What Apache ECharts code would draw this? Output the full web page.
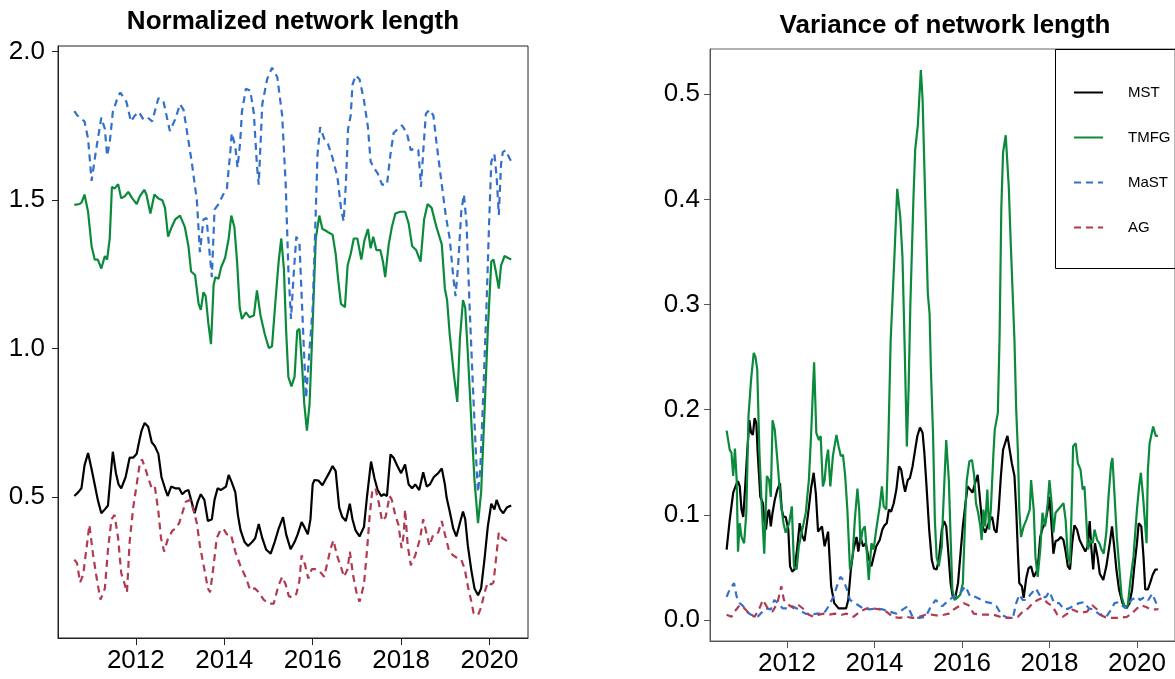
<!DOCTYPE html>
<html>
<head>
<meta charset="utf-8">
<script src="https://cdn.jsdelivr.net/npm/echarts@6/dist/echarts.min.js"></script>
<style>
html,body{margin:0;padding:0;background:#fff;}
#chart{width:1175px;height:679px;}
</style>
</head>
<body>
<div id="chart"></div>
<script>
// ---------- tick labels ----------
const yearTicks = [2012, 2014, 2016, 2018, 2020];
const lenTicks = [0.5, 1.0, 1.5, 2.0];
const varTicks = [0.0, 0.1, 0.2, 0.3, 0.4, 0.5];
const seriesNames = ['MST', 'TMFG', 'MaST', 'AG'];

// ---------- left panel: normalized network length [year, value] ----------
const mstLen = [[2010.61,0.504],[2010.70,0.517],[2010.77,0.53],[2010.84,0.607],[2010.92,0.649],[2011.0,0.594],[2011.07,0.543],[2011.14,0.491],[2011.22,0.446],[2011.30,0.459],[2011.37,0.472],[2011.42,0.556],[2011.48,0.653],[2011.55,0.581],[2011.61,0.543],[2011.67,0.53],[2011.77,0.568],[2011.86,0.633],[2011.94,0.633],[2012.02,0.646],[2012.09,0.698],[2012.13,0.724],[2012.20,0.75],[2012.28,0.737],[2012.36,0.685],[2012.43,0.672],[2012.51,0.646],[2012.58,0.568],[2012.66,0.53],[2012.72,0.504],[2012.80,0.536],[2012.89,0.53],[2012.98,0.53],[2013.05,0.51],[2013.12,0.52],[2013.19,0.524],[2013.25,0.491],[2013.33,0.446],[2013.40,0.485],[2013.47,0.51],[2013.55,0.491],[2013.63,0.42],[2013.72,0.426],[2013.78,0.491],[2013.85,0.53],[2013.92,0.524],[2013.98,0.53],[2014.04,0.536],[2014.10,0.575],[2014.17,0.55],[2014.25,0.517],[2014.31,0.439],[2014.37,0.388],[2014.46,0.349],[2014.54,0.336],[2014.63,0.349],[2014.70,0.362],[2014.78,0.41],[2014.86,0.362],[2014.95,0.323],[2015.05,0.31],[2015.14,0.349],[2015.23,0.394],[2015.33,0.433],[2015.40,0.375],[2015.50,0.325],[2015.59,0.349],[2015.66,0.375],[2015.75,0.416],[2015.81,0.40],[2015.89,0.375],[2015.95,0.426],[2016.0,0.543],[2016.04,0.558],[2016.13,0.556],[2016.22,0.54],[2016.30,0.562],[2016.37,0.581],[2016.45,0.605],[2016.52,0.588],[2016.60,0.465],[2016.67,0.433],[2016.75,0.42],[2016.84,0.478],[2016.90,0.426],[2016.97,0.388],[2017.06,0.368],[2017.16,0.40],[2017.23,0.504],[2017.32,0.62],[2017.40,0.562],[2017.47,0.524],[2017.55,0.504],[2017.61,0.51],[2017.68,0.504],[2017.76,0.644],[2017.83,0.633],[2017.91,0.607],[2018.0,0.581],[2018.09,0.61],[2018.17,0.543],[2018.25,0.53],[2018.32,0.543],[2018.41,0.524],[2018.50,0.584],[2018.58,0.536],[2018.65,0.543],[2018.74,0.568],[2018.84,0.581],[2018.92,0.597],[2018.99,0.543],[2019.03,0.498],[2019.10,0.452],[2019.18,0.394],[2019.25,0.368],[2019.33,0.413],[2019.40,0.452],[2019.45,0.426],[2019.51,0.336],[2019.59,0.252],[2019.66,0.193],[2019.74,0.17],[2019.81,0.193],[2019.89,0.297],[2019.96,0.40],[2020.04,0.478],[2020.11,0.459],[2020.16,0.491],[2020.24,0.459],[2020.31,0.446],[2020.39,0.465],[2020.49,0.472]];

const tmfgLen = [[2010.61,1.484],[2010.73,1.487],[2010.78,1.494],[2010.84,1.519],[2010.92,1.461],[2011.0,1.345],[2011.07,1.30],[2011.14,1.30],[2011.22,1.27],[2011.30,1.312],[2011.35,1.30],[2011.41,1.371],[2011.46,1.545],[2011.52,1.539],[2011.60,1.554],[2011.67,1.506],[2011.75,1.513],[2011.83,1.528],[2011.92,1.506],[2012.02,1.487],[2012.09,1.513],[2012.19,1.535],[2012.24,1.519],[2012.33,1.455],[2012.42,1.519],[2012.51,1.506],[2012.60,1.50],[2012.66,1.474],[2012.73,1.377],[2012.81,1.409],[2012.89,1.435],[2013.0,1.448],[2013.11,1.409],[2013.19,1.345],[2013.25,1.26],[2013.34,1.248],[2013.42,1.151],[2013.47,1.131],[2013.53,1.19],[2013.58,1.177],[2013.64,1.086],[2013.70,1.015],[2013.76,1.215],[2013.80,1.241],[2013.87,1.235],[2013.93,1.274],[2014.02,1.306],[2014.10,1.371],[2014.16,1.448],[2014.23,1.409],[2014.29,1.293],[2014.35,1.138],[2014.40,1.10],[2014.49,1.122],[2014.57,1.106],[2014.67,1.112],[2014.74,1.196],[2014.82,1.112],[2014.92,1.047],[2015.01,1.002],[2015.08,1.008],[2015.16,1.164],[2015.23,1.293],[2015.29,1.371],[2015.35,1.267],[2015.40,1.06],[2015.45,0.905],[2015.52,0.873],[2015.59,0.905],[2015.65,1.06],[2015.70,1.067],[2015.76,0.944],[2015.81,0.814],[2015.87,0.724],[2015.93,0.814],[2016.0,1.086],[2016.07,1.371],[2016.15,1.448],[2016.22,1.403],[2016.30,1.397],[2016.37,1.39],[2016.45,1.384],[2016.52,1.319],[2016.58,1.228],[2016.64,1.151],[2016.73,1.14],[2016.79,1.28],[2016.86,1.319],[2016.93,1.371],[2017.01,1.371],[2017.10,1.30],[2017.17,1.364],[2017.25,1.403],[2017.31,1.338],[2017.37,1.377],[2017.44,1.332],[2017.53,1.332],[2017.59,1.293],[2017.64,1.241],[2017.72,1.351],[2017.79,1.409],[2017.87,1.455],[2017.98,1.461],[2018.09,1.461],[2018.17,1.422],[2018.25,1.345],[2018.34,1.332],[2018.44,1.293],[2018.52,1.435],[2018.60,1.487],[2018.69,1.474],[2018.80,1.409],[2018.92,1.351],[2018.99,1.202],[2019.04,1.164],[2019.10,1.047],[2019.19,0.918],[2019.27,0.821],[2019.33,1.034],[2019.40,1.164],[2019.45,1.138],[2019.51,0.983],[2019.59,0.75],[2019.66,0.556],[2019.74,0.413],[2019.81,0.517],[2019.89,0.801],[2019.96,1.06],[2020.04,1.293],[2020.09,1.30],[2020.15,1.254],[2020.21,1.202],[2020.26,1.28],[2020.34,1.312],[2020.41,1.306],[2020.49,1.30]];

const mastLen = [[2010.61,1.80],[2010.68,1.785],[2010.84,1.765],[2010.92,1.707],[2011.0,1.565],[2011.10,1.668],[2011.22,1.778],[2011.30,1.74],[2011.35,1.649],[2011.41,1.694],[2011.48,1.797],[2011.60,1.85],[2011.65,1.862],[2011.79,1.83],[2011.89,1.765],[2011.98,1.785],[2012.07,1.797],[2012.17,1.772],[2012.27,1.778],[2012.37,1.765],[2012.51,1.843],[2012.62,1.836],[2012.77,1.733],[2012.89,1.772],[2013.0,1.823],[2013.08,1.804],[2013.19,1.70],[2013.27,1.623],[2013.38,1.50],[2013.45,1.325],[2013.53,1.435],[2013.60,1.44],[2013.67,1.32],[2013.72,1.241],[2013.78,1.468],[2013.87,1.487],[2013.98,1.52],[2014.06,1.539],[2014.14,1.668],[2014.17,1.726],[2014.25,1.681],[2014.30,1.61],[2014.36,1.694],[2014.40,1.798],[2014.49,1.875],[2014.59,1.869],[2014.67,1.791],[2014.74,1.616],[2014.78,1.552],[2014.86,1.823],[2014.97,1.907],[2015.08,1.946],[2015.20,1.914],[2015.31,1.785],[2015.39,1.552],[2015.45,1.267],[2015.51,1.10],[2015.57,1.25],[2015.63,1.377],[2015.70,1.358],[2015.78,1.073],[2015.85,0.834],[2015.93,1.0],[2016.0,1.138],[2016.07,1.461],[2016.11,1.655],[2016.17,1.746],[2016.26,1.707],[2016.35,1.688],[2016.45,1.642],[2016.56,1.578],[2016.64,1.474],[2016.70,1.429],[2016.75,1.552],[2016.80,1.739],[2016.86,1.785],[2016.90,1.888],[2016.97,1.92],[2017.06,1.907],[2017.16,1.836],[2017.25,1.746],[2017.31,1.63],[2017.38,1.61],[2017.47,1.59],[2017.57,1.552],[2017.68,1.552],[2017.76,1.655],[2017.83,1.726],[2017.92,1.739],[2018.02,1.752],[2018.13,1.726],[2018.22,1.668],[2018.32,1.675],[2018.39,1.668],[2018.45,1.545],[2018.50,1.662],[2018.56,1.791],[2018.64,1.804],[2018.73,1.785],[2018.80,1.694],[2018.92,1.552],[2019.01,1.448],[2019.10,1.37],[2019.18,1.241],[2019.23,1.177],[2019.29,1.28],[2019.36,1.461],[2019.42,1.519],[2019.48,1.422],[2019.55,1.138],[2019.63,0.853],[2019.70,0.62],[2019.74,0.517],[2019.79,0.594],[2019.85,0.814],[2019.93,1.138],[2019.99,1.422],[2020.04,1.63],[2020.11,1.655],[2020.16,1.58],[2020.21,1.45],[2020.26,1.62],[2020.30,1.662],[2020.36,1.668],[2020.49,1.63]];

const agLen = [[2010.61,0.29],[2010.67,0.278],[2010.74,0.213],[2010.81,0.239],[2010.88,0.323],[2010.95,0.407],[2011.03,0.31],[2011.11,0.232],[2011.20,0.155],[2011.30,0.193],[2011.37,0.323],[2011.45,0.426],[2011.52,0.44],[2011.60,0.362],[2011.67,0.245],[2011.75,0.206],[2011.80,0.18],[2011.86,0.349],[2011.94,0.465],[2012.02,0.543],[2012.09,0.614],[2012.14,0.627],[2012.22,0.594],[2012.30,0.556],[2012.36,0.53],[2012.43,0.536],[2012.51,0.452],[2012.57,0.362],[2012.64,0.317],[2012.73,0.362],[2012.83,0.388],[2012.90,0.394],[2012.98,0.413],[2013.05,0.446],[2013.13,0.485],[2013.23,0.491],[2013.30,0.459],[2013.38,0.413],[2013.45,0.336],[2013.55,0.258],[2013.63,0.193],[2013.68,0.18],[2013.76,0.271],[2013.83,0.362],[2013.91,0.388],[2013.98,0.394],[2014.06,0.375],[2014.15,0.375],[2014.25,0.317],[2014.36,0.271],[2014.48,0.232],[2014.59,0.187],[2014.69,0.193],[2014.78,0.18],[2014.89,0.155],[2015.01,0.142],[2015.12,0.142],[2015.22,0.2],[2015.31,0.232],[2015.39,0.206],[2015.46,0.167],[2015.55,0.162],[2015.63,0.174],[2015.70,0.219],[2015.75,0.304],[2015.83,0.271],[2015.90,0.226],[2015.98,0.258],[2016.05,0.258],[2016.15,0.252],[2016.26,0.232],[2016.34,0.284],[2016.41,0.329],[2016.47,0.355],[2016.55,0.304],[2016.64,0.265],[2016.71,0.232],[2016.79,0.258],[2016.84,0.317],[2016.92,0.232],[2016.99,0.18],[2017.06,0.148],[2017.16,0.206],[2017.23,0.323],[2017.29,0.439],[2017.35,0.524],[2017.42,0.53],[2017.50,0.478],[2017.57,0.42],[2017.65,0.433],[2017.74,0.504],[2017.79,0.491],[2017.87,0.439],[2017.94,0.407],[2018.01,0.329],[2018.06,0.375],[2018.09,0.459],[2018.15,0.336],[2018.22,0.271],[2018.32,0.304],[2018.43,0.362],[2018.50,0.426],[2018.58,0.375],[2018.64,0.336],[2018.73,0.375],[2018.84,0.381],[2018.92,0.42],[2018.99,0.375],[2019.09,0.317],[2019.18,0.304],[2019.25,0.297],[2019.36,0.29],[2019.44,0.258],[2019.51,0.2],[2019.59,0.148],[2019.64,0.109],[2019.74,0.103],[2019.81,0.129],[2019.89,0.18],[2019.96,0.213],[2020.04,0.206],[2020.09,0.213],[2020.15,0.297],[2020.21,0.381],[2020.29,0.362],[2020.37,0.355],[2020.45,0.349]];

// ---------- right panel: variance of network length [year, value] ----------
const mstVar = [[2010.62,0.067],[2010.69,0.095],[2010.77,0.121],[2010.84,0.129],[2010.88,0.132],[2010.92,0.127],[2010.96,0.105],[2011.0,0.098],[2011.03,0.117],[2011.09,0.159],[2011.14,0.19],[2011.18,0.178],[2011.22,0.176],[2011.26,0.192],[2011.30,0.187],[2011.33,0.159],[2011.39,0.117],[2011.45,0.111],[2011.48,0.095],[2011.52,0.086],[2011.56,0.102],[2011.59,0.105],[2011.63,0.089],[2011.67,0.102],[2011.72,0.114],[2011.78,0.124],[2011.84,0.13],[2011.88,0.105],[2011.92,0.098],[2011.97,0.098],[2012.03,0.086],[2012.07,0.051],[2012.12,0.046],[2012.17,0.048],[2012.23,0.067],[2012.29,0.092],[2012.35,0.08],[2012.40,0.075],[2012.48,0.1],[2012.55,0.125],[2012.61,0.14],[2012.66,0.12],[2012.71,0.084],[2012.80,0.089],[2012.86,0.07],[2012.94,0.084],[2013.01,0.032],[2013.08,0.016],[2013.18,0.011],[2013.35,0.011],[2013.40,0.019],[2013.46,0.048],[2013.52,0.067],[2013.59,0.079],[2013.63,0.065],[2013.68,0.079],[2013.74,0.07],[2013.80,0.073],[2013.86,0.06],[2013.93,0.051],[2013.98,0.06],[2014.04,0.07],[2014.12,0.076],[2014.18,0.086],[2014.23,0.09],[2014.28,0.092],[2014.33,0.105],[2014.38,0.103],[2014.44,0.111],[2014.50,0.124],[2014.56,0.146],[2014.61,0.143],[2014.66,0.13],[2014.70,0.122],[2014.76,0.133],[2014.81,0.135],[2014.87,0.146],[2014.93,0.162],[2014.98,0.175],[2015.04,0.183],[2015.10,0.178],[2015.14,0.159],[2015.19,0.127],[2015.25,0.086],[2015.31,0.057],[2015.36,0.049],[2015.42,0.048],[2015.47,0.057],[2015.54,0.086],[2015.59,0.094],[2015.64,0.089],[2015.69,0.063],[2015.74,0.035],[2015.79,0.022],[2015.85,0.022],[2015.91,0.035],[2015.96,0.06],[2016.02,0.089],[2016.08,0.111],[2016.13,0.127],[2016.19,0.124],[2016.24,0.121],[2016.30,0.13],[2016.36,0.138],[2016.42,0.111],[2016.47,0.089],[2016.53,0.083],[2016.58,0.089],[2016.64,0.095],[2016.69,0.098],[2016.74,0.086],[2016.79,0.083],[2016.84,0.105],[2016.89,0.137],[2016.94,0.162],[2017.0,0.17],[2017.04,0.175],[2017.09,0.162],[2017.14,0.149],[2017.20,0.137],[2017.24,0.105],[2017.28,0.063],[2017.31,0.035],[2017.37,0.032],[2017.41,0.021],[2017.47,0.04],[2017.52,0.049],[2017.58,0.051],[2017.64,0.041],[2017.68,0.041],[2017.73,0.048],[2017.79,0.079],[2017.84,0.087],[2017.90,0.092],[2017.96,0.105],[2018.0,0.117],[2018.05,0.089],[2018.09,0.063],[2018.14,0.075],[2018.20,0.076],[2018.26,0.079],[2018.32,0.076],[2018.37,0.065],[2018.42,0.051],[2018.47,0.048],[2018.52,0.073],[2018.57,0.09],[2018.63,0.086],[2018.69,0.076],[2018.76,0.07],[2018.82,0.065],[2018.87,0.07],[2018.92,0.094],[2018.96,0.067],[2019.0,0.048],[2019.04,0.073],[2019.10,0.06],[2019.15,0.044],[2019.23,0.038],[2019.30,0.051],[2019.38,0.073],[2019.43,0.089],[2019.48,0.07],[2019.53,0.048],[2019.59,0.029],[2019.67,0.016],[2019.76,0.011],[2019.83,0.016],[2019.89,0.029],[2019.94,0.051],[2020.0,0.073],[2020.04,0.092],[2020.10,0.089],[2020.15,0.06],[2020.19,0.029],[2020.25,0.029],[2020.30,0.035],[2020.36,0.043],[2020.42,0.048],[2020.48,0.048]];

const tmfgVar = [[2010.62,0.18],[2010.69,0.162],[2010.73,0.159],[2010.77,0.137],[2010.81,0.163],[2010.85,0.133],[2010.88,0.065],[2010.92,0.092],[2010.96,0.079],[2011.02,0.073],[2011.07,0.102],[2011.12,0.194],[2011.18,0.229],[2011.24,0.254],[2011.28,0.25],[2011.32,0.238],[2011.37,0.159],[2011.42,0.111],[2011.48,0.063],[2011.54,0.137],[2011.59,0.133],[2011.63,0.117],[2011.67,0.19],[2011.72,0.181],[2011.78,0.152],[2011.86,0.111],[2011.92,0.092],[2011.97,0.083],[2012.05,0.092],[2012.11,0.108],[2012.16,0.051],[2012.22,0.048],[2012.27,0.07],[2012.35,0.086],[2012.43,0.102],[2012.50,0.133],[2012.55,0.175],[2012.59,0.216],[2012.62,0.245],[2012.67,0.178],[2012.73,0.171],[2012.77,0.175],[2012.82,0.127],[2012.86,0.133],[2012.90,0.152],[2012.94,0.162],[2012.99,0.127],[2013.05,0.156],[2013.13,0.176],[2013.18,0.165],[2013.23,0.156],[2013.28,0.157],[2013.33,0.137],[2013.38,0.105],[2013.44,0.048],[2013.50,0.06],[2013.55,0.095],[2013.61,0.125],[2013.65,0.105],[2013.68,0.073],[2013.73,0.086],[2013.78,0.089],[2013.82,0.067],[2013.87,0.038],[2013.93,0.073],[2013.98,0.067],[2014.04,0.086],[2014.12,0.108],[2014.17,0.127],[2014.21,0.108],[2014.27,0.105],[2014.32,0.175],[2014.37,0.266],[2014.45,0.34],[2014.52,0.41],[2014.59,0.383],[2014.64,0.345],[2014.69,0.26],[2014.74,0.165],[2014.78,0.22],[2014.82,0.3],[2014.89,0.40],[2014.93,0.447],[2014.99,0.47],[2015.06,0.523],[2015.10,0.495],[2015.16,0.40],[2015.22,0.31],[2015.26,0.291],[2015.29,0.238],[2015.34,0.175],[2015.38,0.095],[2015.42,0.06],[2015.47,0.051],[2015.54,0.07],[2015.56,0.095],[2015.61,0.143],[2015.64,0.171],[2015.70,0.133],[2015.74,0.079],[2015.78,0.029],[2015.83,0.019],[2015.89,0.021],[2015.96,0.024],[2016.02,0.035],[2016.08,0.105],[2016.11,0.133],[2016.17,0.151],[2016.23,0.152],[2016.28,0.137],[2016.32,0.111],[2016.37,0.102],[2016.42,0.089],[2016.45,0.076],[2016.49,0.105],[2016.53,0.089],[2016.58,0.124],[2016.62,0.086],[2016.66,0.105],[2016.72,0.159],[2016.75,0.181],[2016.82,0.197],[2016.86,0.27],[2016.90,0.393],[2016.94,0.445],[2017.0,0.461],[2017.03,0.461],[2017.07,0.412],[2017.11,0.364],[2017.13,0.363],[2017.20,0.266],[2017.24,0.2],[2017.28,0.159],[2017.31,0.105],[2017.35,0.079],[2017.41,0.089],[2017.47,0.095],[2017.55,0.105],[2017.58,0.133],[2017.64,0.105],[2017.68,0.06],[2017.73,0.041],[2017.79,0.067],[2017.84,0.102],[2017.90,0.089],[2017.96,0.111],[2018.0,0.133],[2018.05,0.111],[2018.09,0.083],[2018.14,0.102],[2018.20,0.105],[2018.26,0.108],[2018.32,0.111],[2018.37,0.095],[2018.42,0.06],[2018.47,0.054],[2018.51,0.111],[2018.54,0.165],[2018.60,0.168],[2018.65,0.149],[2018.71,0.143],[2018.76,0.124],[2018.80,0.127],[2018.83,0.105],[2018.88,0.067],[2018.94,0.076],[2018.99,0.073],[2019.03,0.086],[2019.09,0.076],[2019.14,0.073],[2019.19,0.067],[2019.24,0.063],[2019.30,0.083],[2019.35,0.117],[2019.41,0.149],[2019.44,0.154],[2019.49,0.117],[2019.54,0.079],[2019.60,0.048],[2019.65,0.022],[2019.73,0.011],[2019.79,0.014],[2019.86,0.041],[2019.92,0.06],[2020.0,0.105],[2020.05,0.127],[2020.09,0.14],[2020.14,0.117],[2020.18,0.095],[2020.22,0.073],[2020.25,0.143],[2020.29,0.168],[2020.37,0.184],[2020.43,0.175],[2020.48,0.175]];

const mastVar = [[2010.62,0.022],[2010.69,0.029],[2010.79,0.035],[2010.85,0.022],[2010.92,0.016],[2011.0,0.013],[2011.07,0.008],[2011.18,0.005],[2011.33,0.003],[2011.44,0.008],[2011.52,0.011],[2011.63,0.01],[2011.71,0.019],[2011.80,0.016],[2011.90,0.011],[2012.0,0.011],[2012.12,0.013],[2012.27,0.01],[2012.42,0.006],[2012.54,0.005],[2012.69,0.006],[2012.84,0.006],[2012.95,0.013],[2013.06,0.022],[2013.14,0.032],[2013.22,0.041],[2013.29,0.038],[2013.37,0.029],[2013.44,0.019],[2013.52,0.017],[2013.63,0.014],[2013.74,0.011],[2013.89,0.01],[2014.04,0.011],[2014.19,0.01],[2014.34,0.008],[2014.50,0.006],[2014.65,0.01],[2014.76,0.013],[2014.87,0.003],[2015.02,0.002],[2015.17,0.003],[2015.29,0.013],[2015.40,0.019],[2015.55,0.013],[2015.70,0.019],[2015.81,0.022],[2015.93,0.024],[2016.08,0.032],[2016.19,0.022],[2016.30,0.022],[2016.45,0.019],[2016.56,0.017],[2016.67,0.016],[2016.79,0.013],[2016.90,0.005],[2017.05,0.002],[2017.17,0.003],[2017.24,0.016],[2017.31,0.024],[2017.39,0.019],[2017.47,0.019],[2017.58,0.025],[2017.69,0.03],[2017.81,0.021],[2017.92,0.022],[2018.0,0.027],[2018.11,0.016],[2018.22,0.016],[2018.34,0.01],[2018.45,0.011],[2018.56,0.014],[2018.68,0.016],[2018.79,0.017],[2018.90,0.011],[2019.0,0.01],[2019.15,0.005],[2019.30,0.003],[2019.41,0.01],[2019.49,0.016],[2019.59,0.017],[2019.68,0.013],[2019.77,0.011],[2019.87,0.019],[2020.0,0.022],[2020.07,0.019],[2020.18,0.022],[2020.26,0.019],[2020.35,0.025],[2020.44,0.016],[2020.48,0.01]];

const agVar = [[2010.62,0.005],[2010.73,0.003],[2010.84,0.01],[2010.92,0.014],[2011.03,0.011],[2011.14,0.006],[2011.26,0.003],[2011.37,0.011],[2011.45,0.019],[2011.56,0.011],[2011.67,0.008],[2011.78,0.016],[2011.87,0.032],[2011.93,0.019],[2012.05,0.014],[2012.16,0.011],[2012.27,0.014],[2012.39,0.01],[2012.50,0.005],[2012.61,0.003],[2012.73,0.005],[2012.84,0.006],[2012.95,0.005],[2013.10,0.006],[2013.25,0.005],[2013.37,0.006],[2013.52,0.003],[2013.67,0.008],[2013.82,0.011],[2013.97,0.011],[2014.12,0.01],[2014.27,0.008],[2014.42,0.003],[2014.57,0.002],[2014.72,0.003],[2014.87,0.002],[2015.02,0.003],[2015.17,0.005],[2015.32,0.005],[2015.47,0.004],[2015.59,0.005],[2015.70,0.006],[2015.81,0.01],[2015.93,0.013],[2016.04,0.016],[2016.15,0.014],[2016.27,0.006],[2016.42,0.005],[2016.57,0.005],[2016.72,0.005],[2016.87,0.003],[2017.02,0.002],[2017.17,0.002],[2017.28,0.003],[2017.39,0.008],[2017.51,0.011],[2017.62,0.016],[2017.73,0.019],[2017.84,0.021],[2017.96,0.016],[2018.07,0.013],[2018.18,0.005],[2018.30,0.003],[2018.41,0.006],[2018.52,0.01],[2018.63,0.008],[2018.75,0.007],[2018.86,0.008],[2018.98,0.014],[2019.09,0.01],[2019.20,0.004],[2019.32,0.002],[2019.47,0.002],[2019.62,0.002],[2019.77,0.003],[2019.88,0.006],[2020.0,0.011],[2020.10,0.014],[2020.22,0.012],[2020.33,0.01],[2020.48,0.01]];

// ---------- styling ----------
const FONT = '"Liberation Sans", Arial, Helvetica, sans-serif';
const COLORS = {MST:'#000000', TMFG:'#0b8a3c', MaST:'#3370cc', AG:'#b23a50'};
const DASH = [7, 5];

function xAxisCfg(gi, color) {
  return {
    type:'value', gridIndex:gi, min:2010.24, max:2020.87,
    axisLine:{show:true, onZero:false, lineStyle:{color:color, width:1}},
    axisTick:{show:true, length:7, customValues:yearTicks, lineStyle:{color:color, width:1}},
    axisLabel:{customValues:yearTicks, margin:10, fontSize:26, color:'#000', fontFamily:FONT,
               formatter:v=>String(Math.round(v))},
    splitLine:{show:false}
  };
}
function yAxisCfg(gi, min, max, ticks, color, margin) {
  return {
    type:'value', gridIndex:gi, min:min, max:max,
    axisLine:{show:true, onZero:false, lineStyle:{color:color, width:1}},
    axisTick:{show:true, length:6, customValues:ticks, lineStyle:{color:color, width:1}},
    axisLabel:{customValues:ticks, margin:margin, fontSize:26, color:'#000', fontFamily:FONT,
               formatter:v=>v.toFixed(1)},
    splitLine:{show:false}
  };
}
function lineSeries(name, data, gi, dashed) {
  return {
    name:name, type:'line', xAxisIndex:gi, yAxisIndex:gi, data:data,
    symbol:'none', showSymbol:false, smooth:false, animation:false,
    lineStyle:{color:COLORS[name], width:2.2, type: dashed ? DASH : 'solid'},
    itemStyle:{color:COLORS[name]},
    emphasis:{disabled:true}
  };
}

const chart = echarts.init(document.getElementById('chart'), null, {renderer:'canvas'});
chart.setOption({
  animation:false,
  backgroundColor:'#ffffff',
  title:[
    {text:'Normalized network length', left:293, top:9, textAlign:'center', padding:0,
     textStyle:{fontSize:26, fontWeight:'bold', color:'#000', fontFamily:FONT}},
    {text:'Variance of network length', left:945, top:13, textAlign:'center', padding:0,
     textStyle:{fontSize:26, fontWeight:'bold', color:'#000', fontFamily:FONT}}
  ],
  grid:[
    {left:58, top:46, width:470, height:592, show:true, borderColor:'#222', borderWidth:1, containLabel:false},
    {left:710, top:49, width:471, height:592, show:true, borderColor:'#666', borderWidth:1, containLabel:false}
  ],
  xAxis:[xAxisCfg(0,'#222'), xAxisCfg(1,'#555')],
  yAxis:[yAxisCfg(0,0.026,2.019,lenTicks,'#222',13), yAxisCfg(1,-0.020,0.543,varTicks,'#555',10)],
  legend:{
    orient:'vertical', left:1073, top:85, itemWidth:29, itemHeight:14, itemGap:30,
    data:seriesNames, selectedMode:false, padding:0,
    itemStyle:{color:'rgba(0,0,0,0)', borderColor:'rgba(0,0,0,0)', borderWidth:0, opacity:0},
    lineStyle:{width:2},
    textStyle:{fontSize:15, color:'#000', fontFamily:FONT, padding:[0,0,0,20]}
  },
  graphic:[
    {type:'rect', silent:true, z:10,
     shape:{x:1055.5, y:49.5, width:200, height:219},
     style:{fill:'none', stroke:'#000', lineWidth:1}}
  ],
  series:[
    lineSeries('MST', mstLen, 0, false),
    lineSeries('TMFG', tmfgLen, 0, false),
    lineSeries('MaST', mastLen, 0, true),
    lineSeries('AG', agLen, 0, true),
    lineSeries('MST', mstVar, 1, false),
    lineSeries('TMFG', tmfgVar, 1, false),
    lineSeries('MaST', mastVar, 1, true),
    lineSeries('AG', agVar, 1, true)
  ]
});
</script>
</body>
</html>
